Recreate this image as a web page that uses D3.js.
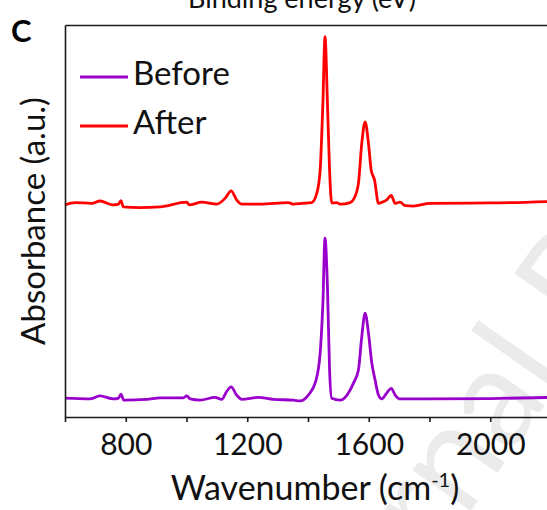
<!DOCTYPE html>
<html>
<head>
<meta charset="utf-8">
<script src="https://cdn.jsdelivr.net/npm/d3@7"></script>
<style>
  html, body { margin: 0; padding: 0; background: #fff; }
  svg { display: block; font-family: Lato, "Open Sans", sans-serif; }
</style>
</head>
<body>
<div id="chart"></div>
<script>
// FTIR spectra, panel C: before / after

// DATA ______________________________________________________________
const BEFORE_WAVENUMBER = [600, 682, 715, 759, 776, 784, 794, 869, 913, 990, 1001, 1012, 1045, 1094, 1116, 1132, 1147, 1165, 1182, 1237, 1286, 1352, 1374, 1401, 1425, 1440, 1449, 1456, 1464, 1471, 1478, 1506, 1550, 1566, 1577, 1588, 1599, 1610, 1621, 1632, 1643, 1659, 1674, 1687, 1703, 1800, 2000, 2200];
const BEFORE_ABS = [4.8, 4.6, 5.4, 4.6, 4.8, 5.8, 4.3, 4.5, 4.9, 4.9, 5.4, 4.6, 4.3, 5.0, 4.5, 6.5, 7.7, 5.6, 4.5, 5.0, 4.5, 4.3, 4.1, 5.6, 9.0, 16.3, 29.1, 45.6, 33.2, 12.0, 4.8, 4.3, 8.7, 12.0, 20.5, 26.5, 21.4, 13.8, 9.4, 5.6, 4.6, 6.1, 7.3, 5.6, 4.6, 4.6, 4.7, 5.0];

const AFTER_WAVENUMBER = [600, 633, 688, 715, 759, 776, 784, 792, 847, 913, 1001, 1009, 1050, 1100, 1127, 1147, 1165, 1182, 1242, 1335, 1352, 1380, 1412, 1429, 1440, 1449, 1456, 1464, 1471, 1478, 1494, 1506, 1539, 1552, 1566, 1577, 1588, 1599, 1608, 1619, 1632, 1648, 1659, 1674, 1687, 1703, 1720, 1747, 1802, 2000, 2200];
const AFTER_ABS = [54.1, 54.7, 54.5, 55.1, 54.1, 54.3, 55.2, 53.6, 53.4, 53.6, 54.8, 54.1, 54.8, 54.3, 55.8, 57.7, 55.4, 54.3, 54.3, 54.7, 54.3, 54.5, 54.7, 57.1, 63.0, 80.1, 97.0, 80.1, 63.0, 54.6, 54.7, 54.3, 54.7, 55.8, 59.6, 69.8, 75.3, 69.9, 63.0, 60.5, 54.5, 54.9, 55.4, 56.5, 54.5, 54.8, 53.9, 53.8, 54.5, 54.6, 55.0];

const X_TICKS = [600, 800, 1000, 1200, 1400, 1600, 1800, 2000, 2200];
const X_TICK_LABELS = [800, 1200, 1600, 2000];
const SERIES_NAMES = ['Before', 'After'];
//____________________________________________________________________

// SETTINGS
const W = 547, H = 510;
const PLOT = {left: 65, right: 551, top: 25, bottom: 417};
const COLORS = {Before: '#9a00cc', After: '#ff0000'};
const AXIS_COLOR = '#1a1a1a';

const svg = d3.select('#chart').append('svg')
    .attr('width', W)
    .attr('height', H);

// watermark (faint, behind everything)
svg.append('text')
    .attr('transform', 'translate(313,736) rotate(-55)')
    .attr('font-size', 140)
    .attr('fill', '#ebebeb')
    .text('Journal Pre-proof');

// scales
const x = d3.scaleLinear().domain([600, 2200]).range([PLOT.left, PLOT.right]);
const y = d3.scaleLinear().domain([0, 100]).range([PLOT.bottom, PLOT.top]);

// spectra
const series = [
    {name: 'Before', xs: BEFORE_WAVENUMBER, ys: BEFORE_ABS},
    {name: 'After', xs: AFTER_WAVENUMBER, ys: AFTER_ABS}
];

const line = d3.line()
    .x(function(d) { return x(d[0]); })
    .y(function(d) { return y(d[1]); })
    .curve(d3.curveMonotoneX);

svg.selectAll('.spectrum')
    .data(series)
    .enter()
    .append('path')
    .attr('class', 'spectrum')
    .attr('d', function(s) { return line(d3.zip(s.xs, s.ys)); })
    .attr('fill', 'none')
    .attr('stroke', function(s) { return COLORS[s.name]; })
    .attr('stroke-width', 2.8)
    .attr('stroke-linejoin', 'round');

// axes
const xAxis = svg.append('g')
    .attr('transform', `translate(0,${PLOT.bottom})`)
    .call(d3.axisBottom(x)
        .tickValues(X_TICKS)
        .tickSize(5)
        .tickSizeOuter(0)
        .tickPadding(12)
        .tickFormat(function(d) { return X_TICK_LABELS.includes(d) ? d : ''; }));
xAxis.selectAll('text')
    .attr('fill', '#111')
    .attr('font-size', 30)
    .attr('font-family', 'Lato, sans-serif');

svg.append('g')
    .attr('transform', `translate(${PLOT.left},0)`)
    .call(d3.axisLeft(y).tickValues([]).tickSizeOuter(0));

svg.append('g')
    .attr('transform', `translate(0,${PLOT.top})`)
    .call(d3.axisTop(x).tickValues([]).tickSizeOuter(0));

svg.selectAll('.domain, .tick line')
    .attr('stroke', AXIS_COLOR)
    .attr('stroke-width', 1.6);

// axis titles
const xTitle = svg.append('text')
    .attr('x', 315)
    .attr('y', 500)
    .attr('text-anchor', 'middle')
    .attr('font-size', 34)
    .attr('fill', '#111');
xTitle.append('tspan').text('Wavenumber (cm');
xTitle.append('tspan').attr('font-size', 20).attr('dy', -13).text('-1');
xTitle.append('tspan').attr('dy', 13).text(')');

svg.append('text')
    .attr('transform', 'translate(45,221) rotate(-90)')
    .attr('text-anchor', 'middle')
    .attr('font-size', 33)
    .attr('fill', '#111')
    .text('Absorbance (a.u.)');

// cropped title of the panel above, and panel letter
svg.append('text')
    .attr('x', 302)
    .attr('y', 8)
    .attr('text-anchor', 'middle')
    .attr('font-size', 27)
    .attr('fill', '#111')
    .text('Binding energy (eV)');

svg.append('text')
    .attr('x', 11)
    .attr('y', 42)
    .attr('font-size', 31)
    .attr('font-weight', 'bold')
    .attr('fill', '#000')
    .text('C');

// legend
const legend = svg.selectAll('.legend')
    .data(SERIES_NAMES)
    .enter()
    .append('g')
    .attr('class', 'legend')
    .attr('transform', function(d, i) { return `translate(80,${77 + i * 49})`; });

legend.append('line')
    .attr('x1', 0).attr('x2', 48)
    .attr('stroke', function(d) { return COLORS[d]; })
    .attr('stroke-width', 2.8);

legend.append('text')
    .attr('x', 53)
    .attr('y', 8)
    .attr('font-size', 33)
    .attr('fill', '#111')
    .text(function(d) { return d; });
</script>
</body>
</html>
